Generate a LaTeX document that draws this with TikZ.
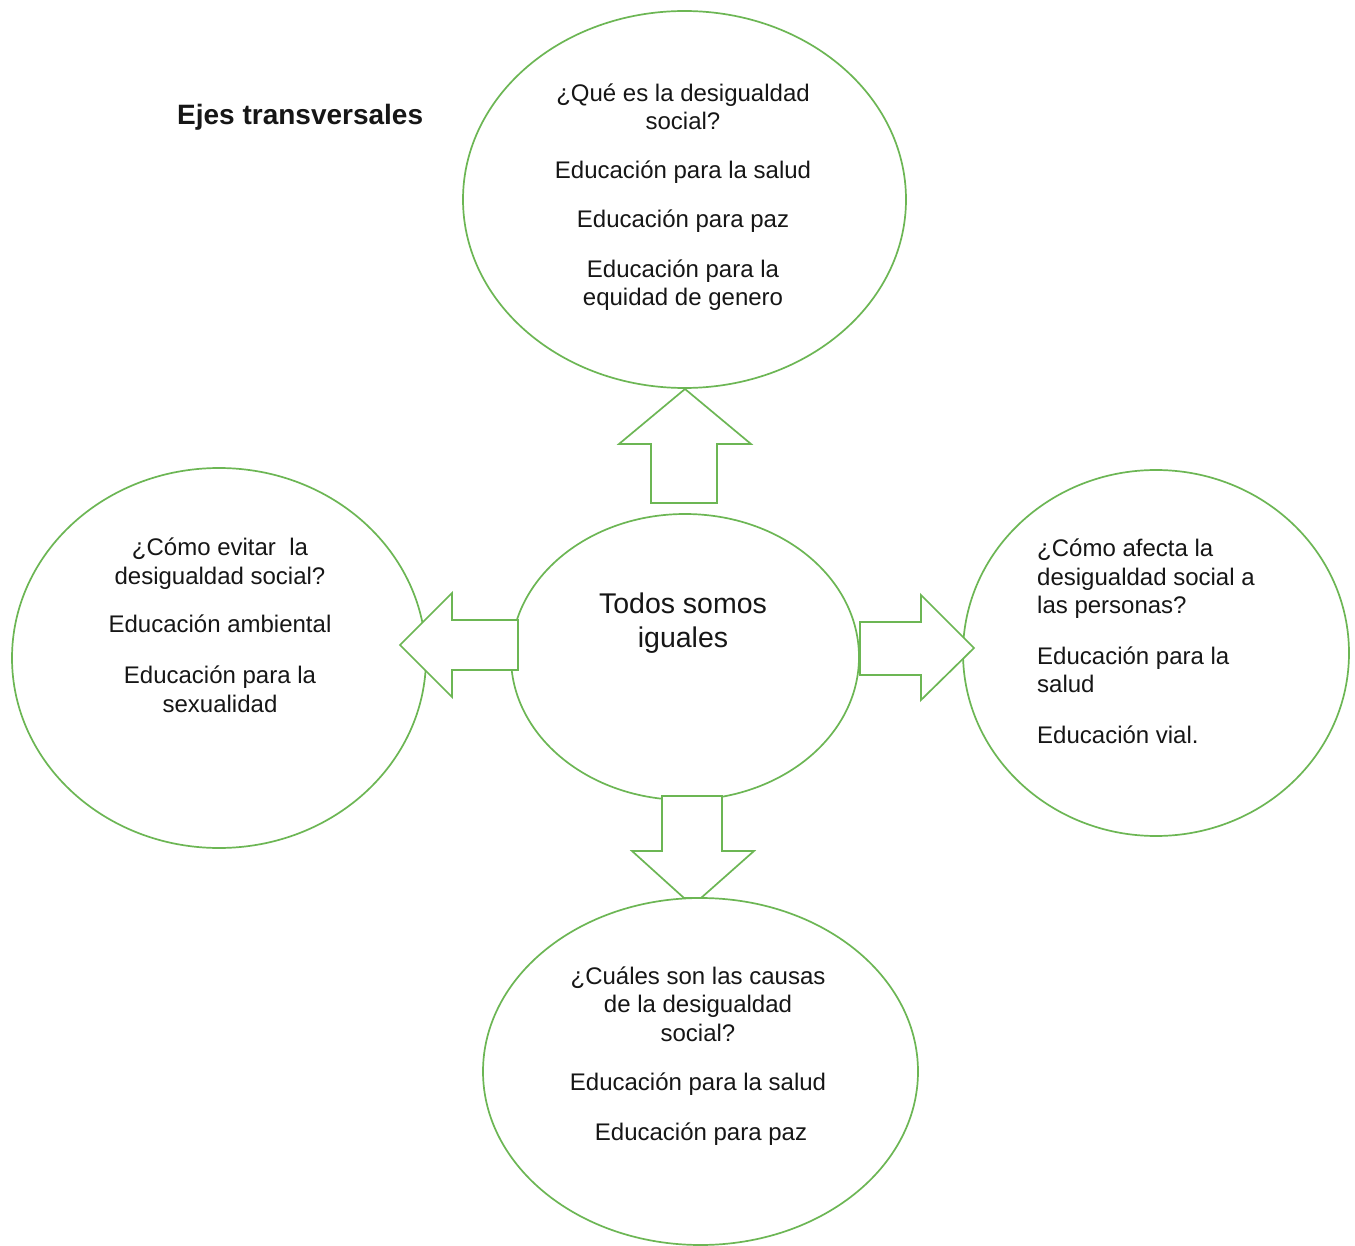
\documentclass[tikz,border=0pt]{standalone}
\usepackage{fontspec}
\setmainfont{Liberation Sans}
\usetikzlibrary{shapes.geometric}
\definecolor{eje}{RGB}{108,182,84}
\definecolor{txt}{RGB}{22,22,22}
\begin{document}
\begin{tikzpicture}[x=1pt,y=-1pt,
  bubble/.style={draw=eje,line width=1.7pt,ellipse,inner sep=0pt,outer sep=0pt},
  blockarrow/.style={draw=eje,line width=1.7pt,line join=miter,fill=white},
  body/.style={inner sep=0pt,text=txt,font=\fontsize{24}{28.5}\selectfont},
  bigtext/.style={inner sep=0pt,text=txt,font=\fontsize{28.5}{34}\selectfont},
  title/.style={inner sep=0pt,text=txt,font=\fontsize{28}{34}\selectfont\bfseries}
]
\useasboundingbox[fill=white] (0,0) rectangle (1355,1246);

% ellipses
\node[bubble,minimum width=443pt,minimum height=377pt] (top) at (684.5,199.5) {};
\node[bubble,minimum width=414pt,minimum height=380pt] (left) at (219,658) {};
\node[bubble,minimum width=348pt,minimum height=286pt] (center) at (685,657) {};
\node[bubble,minimum width=386pt,minimum height=366pt] (right) at (1156,653) {};
\node[bubble,minimum width=435pt,minimum height=347pt] (bottom) at (700.5,1071.5) {};

% block arrows
\draw[blockarrow] (651,503) -- (651,444) -- (619,444) -- (685,389) -- (751,444) -- (717,444) -- (717,503) -- cycle;
\draw[blockarrow] (518,620) -- (452,620) -- (452,593) -- (400,645) -- (452,697) -- (452,670) -- (518,670) -- cycle;
\draw[blockarrow] (860,622) -- (921,622) -- (921,595) -- (974,648) -- (921,700) -- (921,675) -- (860,675) -- cycle;
\draw[blockarrow] (662,796) -- (722,796) -- (722,851) -- (754,851) -- (701,898) -- (684,898) -- (632,851) -- (662,851) -- cycle;

% texts (anchor = baseline of the last line)
\node[title,anchor=base west] (ttl) at (177,125) {Ejes transversales};

\node[body,anchor=base,align=center] (toptext) at (683,306)
  {¿Qué es la desigualdad\\social?\\[20pt]Educación para la salud\\[21pt]Educación para paz\\[21pt]Educación para la\\equidad de genero};

\node[body,anchor=base,align=center] (lefttext) at (220,712)
  {¿Cómo evitar\ \ la\\desigualdad social?\\[20pt]Educación ambiental\\[22.5pt]Educación para la\\sexualidad};

\node[bigtext,anchor=base,align=center] (centertext) at (683,647)
  {Todos somos\\iguales};

\node[body,anchor=base west,align=left] (righttext) at (1037,743)
  {¿Cómo afecta la\\desigualdad social a\\las personas?\\[22pt]Educación para la\\salud\\[22pt]Educación vial.};

\node[body,anchor=base,align=center] (bottomtext) at (698,1140)
  {¿Cuáles son las causas\\de la desigualdad\\social?\\[21pt]Educación para la salud\\[21pt]\hspace*{6pt}Educación para paz};
\end{tikzpicture}
\end{document}
